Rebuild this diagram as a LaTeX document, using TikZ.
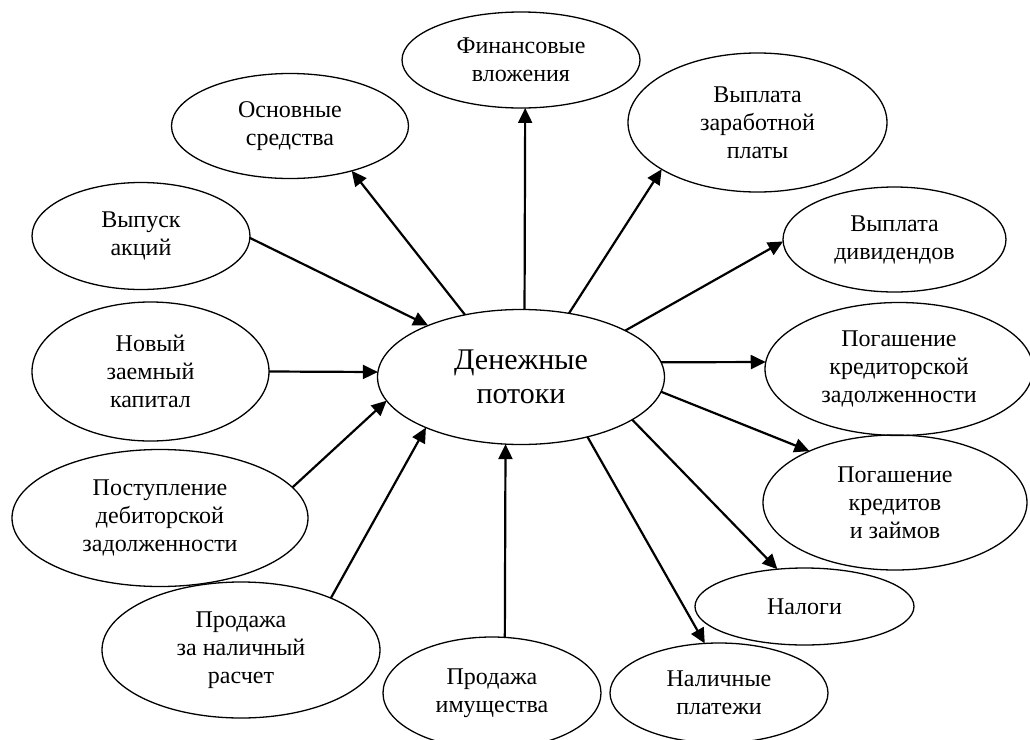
\documentclass[tikz,border=0pt]{standalone}
\usepackage{fontspec}
\setmainfont{Liberation Serif}
\usetikzlibrary{shapes.geometric,arrows.meta}

\begin{document}
\begin{tikzpicture}[x=0.5pt,y=-0.5pt,
                oval/.style 2 args={ellipse, draw, line width=0.65pt, inner sep=0pt, outer sep=0pt,
                    align=center, font=\fontsize{12}{14}\selectfont, minimum width=#1pt, minimum height=#2pt},
                flow/.style={line width=1.1pt, -{Triangle[length=7.5pt,width=7pt]}}]
                \useasboundingbox (0,0) rectangle (1030,740);
                % centre
                \node[oval={143.5}{67.5}, font=\fontsize{15}{17}\selectfont] (den) at (521,377) {Денежные\\потоки};
                % sources (left and bottom)
                \node[oval={109}{53.5}] (vyp) at (141,236) {Выпуск\\акций};
                \node[oval={118.5}{69.5}] (nov) at (150.5,371.5) {Новый\\заемный\\капитал};
                \node[oval={148}{68.5}] (post) at (160,518) {Поступление\\дебиторской\\задолженности};
                \node[oval={139}{68}] (prodnal) at (241,650) {Продажа\\ за наличный\\расчет};
                \node[oval={109}{56}] (prodim) at (492,693) {Продажа\\имущества};
                % uses (top and right)
                \node[oval={118.5}{52.5}] (osn) at (290,126) {Основные\\средства};
                \node[oval={119}{48}] (fin) at (521,60) {Финансовые\\вложения};
                \node[oval={129.5}{69.5}] (zarpl) at (757.5,122.5) {Выплата\\заработной\\платы};
                \node[oval={111.5}{52.5}] (divid) at (894.5,239.5) {Выплата\\дивидендов};
                \node[oval={134}{66.5}] (kredz) at (899,369) {Погашение\\кредиторской\\задолженности};
                \node[oval={132}{67.5}] (kredit) at (895,502.5) {Погашение\\кредитов\\ и займов};
                \node[oval={109.5}{38.5}] (nalog) at (804.5,606.5) {Налоги};
                \node[oval={109}{50}] (platezh) at (719,693) {Наличные\\платежи};
                % inflows
                \draw[flow] (vyp.-1) -- (den.151);
                \draw[flow] (nov.0) -- (den.178);
                \draw[flow] (post.13) -- (den.-170);
                \draw[flow] (prodnal.30) -- (den.-152);
                \draw[flow] (prodim.77) -- (den.-103);
                % outflows
                \draw[flow] (den.132) -- (osn.-36);
                \draw[flow] (den.87) -- (fin.-85);
                \draw[flow] (den.53) -- (zarpl.-154);
                \draw[flow] (den.24) -- (divid.181);
                \draw[flow] (den.6) -- (kredz.177);
                \draw[flow] (den.-6) -- (kredit.149);
                \draw[flow] (den.-21) -- (nalog.126);
                \draw[flow] (den.-42) -- (platezh.106);
            \end{tikzpicture}
\end{document}
